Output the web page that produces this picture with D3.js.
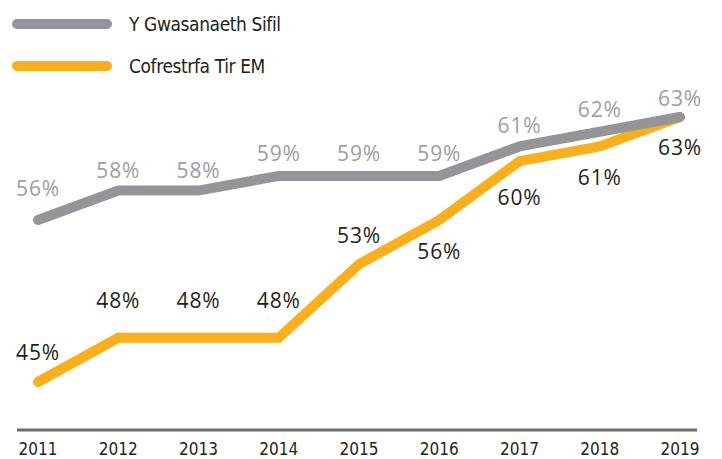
<!DOCTYPE html>
<html>
<head>
<meta charset="utf-8">
<script src="https://cdn.jsdelivr.net/npm/d3@7"></script>
<style>
  body { margin: 0; background: #fff; }
  .label { font-family: "Open Sans", sans-serif; font-size: 21px; letter-spacing: 0.8px; }
  .narrow { font-family: "Liberation Sans Narrow", "DejaVu Sans Condensed", "Roboto", sans-serif; font-stretch: condensed; fill: #231f20; }
</style>
</head>
<body>
<div id="chart"></div>
<script>
var years = [2011, 2012, 2013, 2014, 2015, 2016, 2017, 2018, 2019];
var civilService = [56, 58, 58, 59, 59, 59, 61, 62, 63];
var landRegistry = [45, 48, 48, 48, 53, 56, 60, 61, 63];
var seriesNames = ['Y Gwasanaeth Sifil', 'Cofrestrfa Tir EM'];

var width = 722;
var height = 459;

// label nudges (dy from point), hand placed like the original
var grayLabelDy = [-24, -13, -13, -15, -15, -15, -13, -15, -11];
var orangeLabelDy = [-22, -30, -30, -30, -21, 39, 44, 39, 38];

var svg = d3.select('#chart')
  .append('svg')
  .attr('width', width)
  .attr('height', height);

var x = d3.scalePoint()
  .domain(years)
  .range([38, 680]);

var y = d3.scaleLinear()
  .domain([45, 63])
  .range([382, 117]);

var axisY = 430;

// axis line
svg.append('line')
  .attr('x1', 17)
  .attr('x2', 697)
  .attr('y1', axisY)
  .attr('y2', axisY)
  .attr('stroke', '#6d6e71')
  .attr('stroke-width', 3);

svg.selectAll('.year')
  .data(years)
  .enter()
  .append('text')
  .attr('class', 'narrow')
  .attr('x', function (d) { return x(d); })
  .attr('y', 455)
  .attr('text-anchor', 'middle')
  .attr('fill', '#2b2b2b')
  .style('font-size', '17px')
  .text(function (d) { return d; });

var line = d3.line()
  .x(function (d, i) { return x(years[i]); })
  .y(function (d) { return y(d); });

var series = [
  { values: landRegistry, color: '#fbaf1b', text: '#231f20', dy: orangeLabelDy },
  { values: civilService, color: '#939598', text: '#9c9ea1', dy: grayLabelDy }
];

series.forEach(function (s) {
  svg.append('path')
    .datum(s.values)
    .attr('d', line)
    .attr('fill', 'none')
    .attr('stroke', s.color)
    .attr('stroke-width', 10)
    .attr('stroke-linecap', 'round')
    .attr('stroke-linejoin', 'miter');
});

series.forEach(function (s) {
  svg.selectAll(null)
    .data(s.values)
    .enter()
    .append('text')
    .attr('class', 'label')
    .attr('x', function (d, i) { return x(years[i]); })
    .attr('y', function (d, i) { return y(d) + s.dy[i]; })
    .attr('text-anchor', 'middle')
    .attr('fill', s.text)
    .text(function (d) { return d + '%'; });
});

// legend
var legendColors = ['#939598', '#fbaf1b'];
var legend = svg.selectAll('.legend')
  .data(seriesNames)
  .enter()
  .append('g')
  .attr('transform', function (d, i) { return 'translate(0,' + (24 + i * 42) + ')'; });

legend.append('line')
  .attr('x1', 17)
  .attr('x2', 107)
  .attr('stroke', function (d, i) { return legendColors[i]; })
  .attr('stroke-width', 10)
  .attr('stroke-linecap', 'round');

legend.append('text')
  .attr('class', 'narrow')
  .attr('x', 129)
  .attr('y', 7)
  .style('font-size', '19px')
  .style('letter-spacing', '-0.4px')
  .text(function (d) { return d; });
</script>
</body>
</html>
